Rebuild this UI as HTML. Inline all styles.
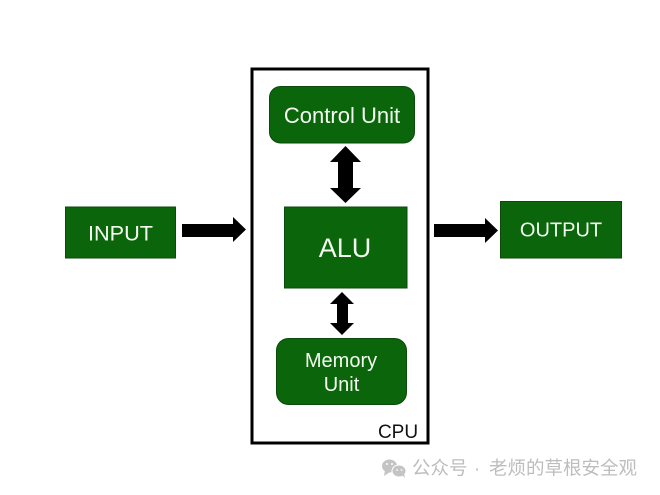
<!DOCTYPE html>
<html>
<head>
<meta charset="utf-8">
<style>
html,body{margin:0;padding:0;background:#fff;width:660px;height:495px;overflow:hidden}
svg{display:block}
text{font-family:"Liberation Sans",sans-serif}
</style>
</head>
<body>
<svg width="660" height="495" viewBox="0 0 660 495" xmlns="http://www.w3.org/2000/svg">
<rect x="0" y="0" width="660" height="495" fill="#ffffff"/>
<rect x="252" y="69" width="176" height="374" fill="#fff" stroke="#000" stroke-width="3"/>

<rect x="269.5" y="86.5" width="145" height="56.5" rx="11" fill="#0b650b" stroke="#0a4a0a" stroke-width="1"/>
<rect x="284.5" y="207" width="122.5" height="81" fill="#0b650b" stroke="#0a4a0a" stroke-width="1"/>
<rect x="276.5" y="338.5" width="130" height="66" rx="12" fill="#0b650b" stroke="#0a4a0a" stroke-width="1"/>
<rect x="65.5" y="207" width="110" height="51" fill="#0b650b" stroke="#0a4a0a" stroke-width="1"/>
<rect x="500.5" y="201.5" width="121" height="56.5" fill="#0b650b" stroke="#0a4a0a" stroke-width="1"/>

<polygon points="345.500,146 361,162 353,162 353,188 361,188 345.500,203 330,188 338,188 338,162 330,162" fill="#000"/>
<polygon points="342,292 354,304 348,304 348,323 354,323 342,335 330,323 337,323 337,304 330,304" fill="#000"/>
<polygon points="182,224 233,224 233,217 246,229.500 233,242 233,237 182,237" fill="#000"/>
<polygon points="434,224 485,224 485,218 498,230.500 485,243 485,237 434,237" fill="#000"/>

<g fill="#f4fbf0" text-anchor="middle">
<text x="342" y="123" font-size="22">Control Unit</text>
<text x="345" y="257" font-size="27">ALU</text>
<text x="341" y="367" font-size="20">Memory</text>
<text x="341.500" y="391" font-size="20">Unit</text>
<text x="120.500" y="240.500" font-size="21.700">INPUT</text>
<text x="561" y="236.500" font-size="20">OUTPUT</text>
</g>
<text x="398" y="438" font-size="19" fill="#111" text-anchor="middle">CPU</text>

<g fill="#c4c4c4">
<ellipse cx="389.500" cy="466" rx="7.500" ry="6.500"/>
<polygon points="385,470 384,476 390,472"/>
</g>
<g fill="#c4c4c4" stroke="#fff" stroke-width="1">
<ellipse cx="399" cy="471" rx="7" ry="6"/>
</g>
<polygon points="402,475 405,478 404,473" fill="#c4c4c4"/>
<circle cx="387" cy="464" r="1" fill="#fff"/>
<circle cx="392" cy="464" r="1" fill="#fff"/>
<circle cx="397" cy="470" r="0.900" fill="#fff"/>
<circle cx="401.500" cy="470" r="0.900" fill="#fff"/>

<text x="412" y="474.500" font-size="18.500" fill="#bdbdbd" style="font-family:'Liberation Sans','Noto Sans CJK SC',sans-serif">公众号</text>
<text x="474" y="474.500" font-size="18.500" fill="#bdbdbd" style="font-family:'Liberation Sans','Noto Sans CJK SC',sans-serif">·</text>
<text x="489" y="474.500" font-size="18.500" fill="#bdbdbd" style="font-family:'Liberation Sans','Noto Sans CJK SC',sans-serif">老烦的草根安全观</text>
</svg>
</body>
</html>
